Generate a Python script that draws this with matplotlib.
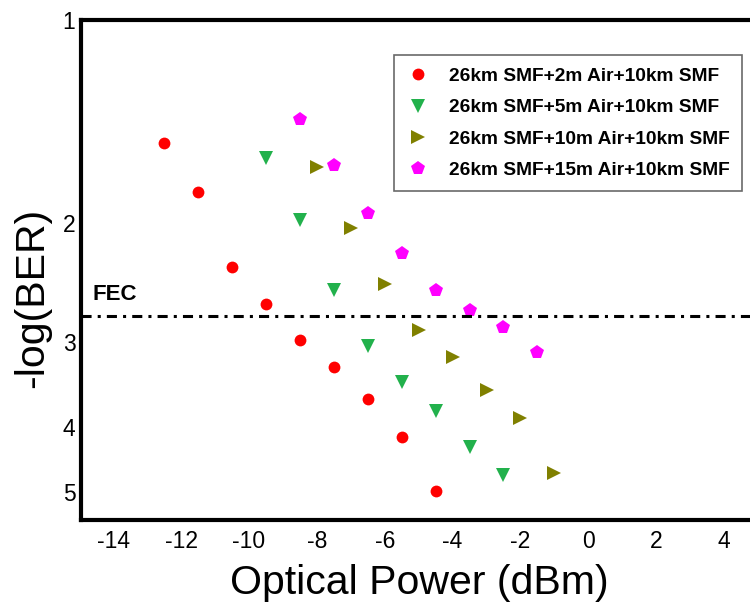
import numpy as np
import matplotlib
matplotlib.use('Agg')
import matplotlib.pyplot as plt
from matplotlib.ticker import FixedLocator, FixedFormatter, NullLocator

plt.rcParams['font.family'] = ['Liberation Sans', 'DejaVu Sans']
plt.rcParams['axes.unicode_minus'] = False

# data
x_2m = [-12.5, -11.5, -10.5, -9.5, -8.5, -7.5, -6.5, -5.5, -4.5]
y_2m = [1.52, 1.80, 2.32, 2.63, 2.98, 3.27, 3.64, 4.15, 4.99]

x_5m = [-9.5, -8.5, -7.5, -6.5, -5.5, -4.5, -3.5, -2.5]
y_5m = [1.60, 1.98, 2.51, 3.04, 3.43, 3.79, 4.29, 4.71]

x_10m = [-8, -7, -6, -5, -4, -3, -2, -1]
y_10m = [1.65, 2.03, 2.46, 2.88, 3.15, 3.53, 3.88, 4.69]

x_15m = [-8.5, -7.5, -6.5, -5.5, -4.5, -3.5, -2.5, -1.5]
y_15m = [1.40, 1.64, 1.93, 2.21, 2.51, 2.69, 2.85, 3.10]

fec_level = 2.74

labels = ['26km SMF+2m Air+10km SMF', '26km SMF+5m Air+10km SMF',
          '26km SMF+10m Air+10km SMF', '26km SMF+15m Air+10km SMF']
xticks = [-14, -12, -10, -8, -6, -4, -2, 0, 2, 4]
yticks = [1, 2, 3, 4, 5]

fig = plt.figure(figsize=(7.5, 6.05), dpi=100)
# axes runs past the right edge of the image like the original
ax = fig.add_axes([81/750, 1-520/605, 677/750, 500/605])

ax.plot(x_2m, y_2m, 'o', color='#ff0000', ms=8.5, mew=0, label=labels[0])
ax.plot(x_5m, y_5m, 'v', color='#22b14c', ms=10.5, mew=0, label=labels[1])
ax.plot(x_10m, y_10m, '>', color='#808000', ms=10.5, mew=0, label=labels[2])
ax.plot(x_15m, y_15m, 'p', color='#ff00ff', ms=10.5, mew=0, label=labels[3])

ax.axhline(fec_level, color='black', lw=2.2, linestyle=(0, (3.3, 2, 1, 2)))
ax.text(-14.6, fec_level - 0.1, 'FEC', fontsize=16, fontweight='bold',
        ha='left', va='bottom')

ax.set_yscale('log')
ax.set_ylim(5.5, 1)
ax.set_xlim(-14.95, 5)
ax.yaxis.set_major_locator(FixedLocator(yticks))
ax.yaxis.set_major_formatter(FixedFormatter([str(t) for t in yticks]))
ax.yaxis.set_minor_locator(NullLocator())
ax.set_xticks(xticks)
ax.set_xticklabels([str(t) for t in xticks])

ax.tick_params(axis='both', length=0, labelsize=16.5)
ax.tick_params(axis='x', pad=7)
ax.tick_params(axis='y', pad=4)

for s in ax.spines.values():
    s.set_linewidth(3)

ax.set_xlabel('Optical Power (dBm)', fontsize=29.5, labelpad=8)
ax.set_ylabel('-log(BER)', fontsize=29.5, va='center')
ax.yaxis.set_label_coords(-0.072, 0.444)

leg = fig.legend(loc='upper left', bbox_to_anchor=(394/750, 1-55/605),
                 prop={'weight': 'bold', 'size': 13.8}, frameon=True,
                 fancybox=False, edgecolor='#444444', borderpad=0.66,
                 labelspacing=0.72, handletextpad=1.0, handlelength=1.2,
                 borderaxespad=0)
leg.get_frame().set_linewidth(1.2)

fig.savefig('out.png', dpi=100)
